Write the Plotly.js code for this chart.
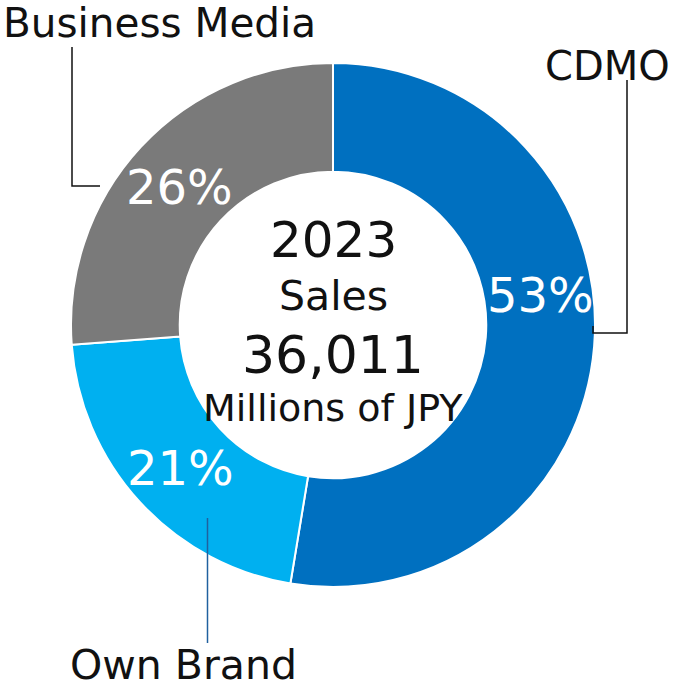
<!DOCTYPE html>
<html>
<head>
<meta charset="utf-8">
<script src="https://cdn.plot.ly/plotly-3.0.1.min.js"></script>
<style>html,body{margin:0;padding:0;background:#fff;}#chart{width:676px;height:688px;}</style>
</head>
<body>
<div id="chart"></div>
<script>
const categories = ["CDMO", "Own Brand", "Business Media"];
const shares = [52.6, 21.2, 26.2];
const colors = ["#0070C0", "#00B0F0", "#7A7A7A"];
const centerYear = "2023";
const centerTitle = "Sales";
const centerValue = "36,011";
const centerUnit = "Millions of JPY";

const W = 676, H = 688;
const FONT = "DejaVu Sans, Verdana, sans-serif";
const px = x => x / W;
const py = y => 1 - y / H;

const cx = 333, cy = 325, R = 262;
const total = shares.reduce((a, b) => a + b, 0);
const pct = shares.map(v => Math.round(v / total * 100) + "%");

const trace = {
  type: "pie",
  labels: categories,
  values: shares,
  sort: false,
  direction: "clockwise",
  rotation: 0,
  hole: 0.585,
  marker: {colors: colors, line: {color: "#ffffff", width: 2}},
  textinfo: "none",
  hoverinfo: "label+percent",
  showlegend: false,
  domain: {x: [px(cx - R), px(cx + R)], y: [py(cy + R), py(cy - R)]}
};

// label placements (pixel positions)
const pctPos = [[540, 295], [180, 468], [179, 187]];
const namePos = [[607, 66], [183, 665], [159, 23]];
const nameSize = [40, 41, 40.5];

const annotations = [];
categories.forEach((c, i) => {
  annotations.push({text: pct[i], x: px(pctPos[i][0]), y: py(pctPos[i][1]), xref: "paper", yref: "paper",
    showarrow: false, xanchor: "center", yanchor: "middle", borderpad: 0, font: {family: FONT, size: 48, color: "#ffffff"}});
  annotations.push({text: c, x: px(namePos[i][0]), y: py(namePos[i][1]), xref: "paper", yref: "paper",
    showarrow: false, xanchor: "center", yanchor: "middle", borderpad: 0, font: {family: FONT, size: nameSize[i], color: "#111111"}});
});
const centerLines = [[centerYear, 50, 240], [centerTitle, 41, 296], [centerValue, 52, 355], [centerUnit, 38, 408]];
centerLines.forEach(([t, s, y]) => {
  annotations.push({text: t, x: px(cx), y: py(y), xref: "paper", yref: "paper", showarrow: false,
    xanchor: "center", yanchor: "middle", borderpad: 0, font: {family: FONT, size: s, color: "#111111"}});
});

function path(pts) {
  return "M " + pts.map(p => px(p[0]) + "," + py(p[1])).join(" L ");
}
const shapes = [
  {type: "path", xref: "paper", yref: "paper", path: path([[72, 47], [72, 186], [100, 186]]), line: {color: "#111111", width: 1.5}},
  {type: "path", xref: "paper", yref: "paper", path: path([[627, 80], [627, 333], [593, 333], [593, 326]]), line: {color: "#111111", width: 1.5}},
  {type: "path", xref: "paper", yref: "paper", path: path([[207.5, 518], [207.5, 643]]), line: {color: "#20609F", width: 1.5}}
];

const layout = {
  width: W, height: H,
  margin: {l: 0, r: 0, t: 0, b: 0},
  paper_bgcolor: "#ffffff",
  plot_bgcolor: "#ffffff",
  annotations: annotations,
  shapes: shapes
};
Plotly.newPlot("chart", [trace], layout, {displayModeBar: false, staticPlot: true});
</script>
</body>
</html>
